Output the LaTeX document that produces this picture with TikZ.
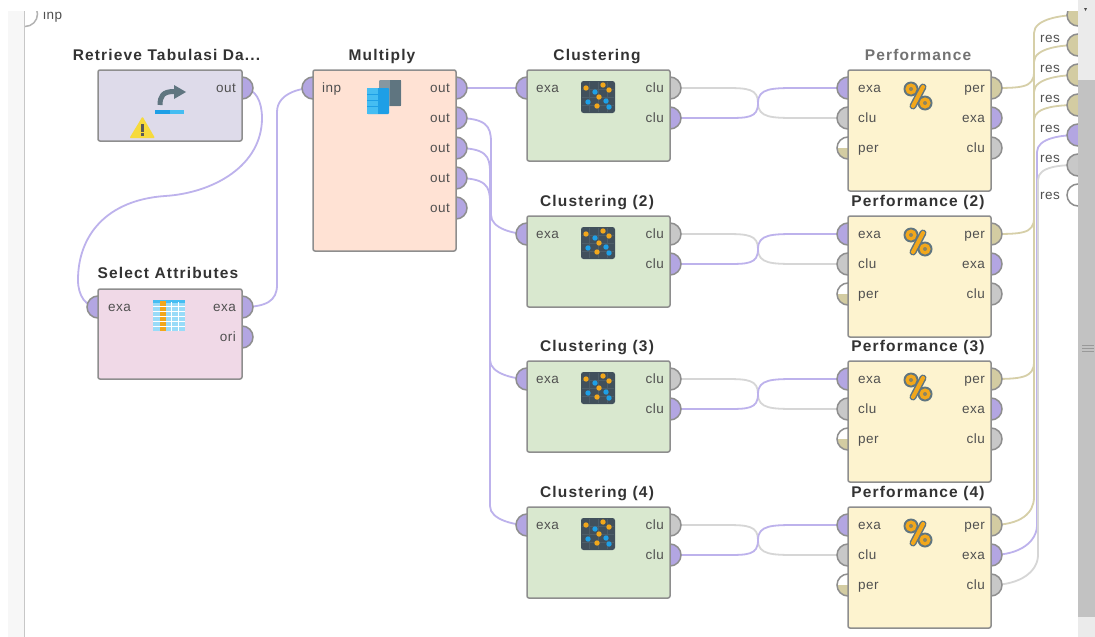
\documentclass[tikz,border=0pt]{standalone}
\usepackage{fontspec}
\setmainfont{Liberation Sans}
\newfontfamily\titlefont[LetterSpace=7.5]{Liberation Sans Bold}
\newfontfamily\portfont[LetterSpace=3]{Liberation Sans}
\usetikzlibrary{calc}
\pgfdeclarelayer{bg}
\pgfdeclarelayer{wires}
\pgfsetlayers{bg,wires,main}
\definecolor{purp}{HTML}{B3A6E2}
\definecolor{wpurp}{HTML}{BDB2EC}
\definecolor{tanc}{HTML}{D3CCA2}
\definecolor{wtan}{HTML}{D6CFA8}
\definecolor{grayc}{HTML}{C8C8C8}
\definecolor{wgray}{HTML}{D6D6D6}
\definecolor{edgec}{HTML}{8E8E8E}
\definecolor{txtc}{HTML}{505050}
\definecolor{fret}{HTML}{DEDBEA}
\definecolor{fmul}{HTML}{FFE2D4}
\definecolor{fsel}{HTML}{F0D9E7}
\definecolor{fclu}{HTML}{D9E8CF}
\definecolor{fper}{HTML}{FDF3CF}
\definecolor{blue1}{HTML}{1E9FE6}
\definecolor{blue2}{HTML}{45BDF2}
\definecolor{slatec}{HTML}{5F7580}
\definecolor{darkicon}{HTML}{41505C}
\definecolor{gridicon}{HTML}{4E5E69}
\definecolor{iconorange}{HTML}{F2A71B}
\definecolor{warnc}{HTML}{F6DA3C}
\tikzset{
  x=1pt,y=-1pt,
  opbox/.style={draw=edgec,line width=1.5pt,rounded corners=2pt,anchor=north west,inner sep=0pt,outer sep=0pt},
  port/.style={circle,draw=edgec,line width=1.5pt,minimum size=22pt,inner sep=0pt,outer sep=0pt},
  pp/.style={port,fill=purp},
  pg/.style={port,fill=grayc},
  pt/.style={port,fill=tanc},
  pw/.style={port,fill=white},
  phalf/.style={port,fill=white,path picture={\fill[tanc] (path picture bounding box.west) rectangle (path picture bounding box.south east);}},
  optitle/.style={font=\titlefont\fontsize{15.5}{17}\selectfont,text=black!80,inner sep=0pt,anchor=base},
  plabel/.style={font=\portfont\fontsize{13.5}{15}\selectfont,text=txtc,inner sep=0pt,anchor=base},
  wp/.style={draw=wpurp,line width=1.8pt},
  wg/.style={draw=wgray,line width=1.8pt},
  wt/.style={draw=wtan,line width=1.8pt},
}
\newcommand{\lblL}[4]{\node[plabel,anchor=base west] (#1) at (#2,#3+4.5) {#4};}
\newcommand{\lblR}[4]{\node[plabel,anchor=base east] (#1) at (#2,#3+4.5) {#4};}
% vertical-run wire: a -> vertical at xv -> b (going down)
\newcommand{\wdown}[5]{\begin{pgfonlayer}{wires}
  \coordinate (#1-#2-t) at (#3,#4); \coordinate (#1-#2-b) at (#3,#5);
  \draw[wp] (#1.center) .. controls +(30,0) and +(0,-16) .. (#1-#2-t) -- (#1-#2-b) .. controls +(0,14) and +(-12,0) .. (#2.center);
\end{pgfonlayer}}
% crossing pair between clustering and performance
\newcommand{\wcross}[4]{\begin{pgfonlayer}{wires}
  \draw[wg] (#1.center) -- ++(56,0) .. controls +(22,0) and +(0,-14) .. ++(32,15) .. controls +(0,15) and +(-26,0) .. ($(#4.center)+(-50,0)$) -- (#4.center);
  \draw[wp] (#2.center) -- ++(56,0) .. controls +(22,0) and +(0,15) .. ++(32,-15) .. controls +(0,-15) and +(-26,0) .. ($(#3.center)+(-50,0)$) -- (#3.center);
\end{pgfonlayer}}
% icons
\newcommand{\iconcluster}[2]{\begin{scope}[shift={(#1,#2)}]
  \fill[rounded corners=2.5pt,fill=darkicon] (0,0) rectangle (34,32);
  \foreach \a in {8,17,26}{\draw[gridicon,line width=0.6pt] (\a,1) -- (\a,31);}
  \foreach \a in {8,16,24}{\draw[gridicon,line width=0.6pt] (1,\a) -- (33,\a);}
  \foreach \a/\b in {5/7,22/4,28/9,18/16,16/25}{\fill[iconorange] (\a,\b) circle (2.7);}
  \foreach \a/\b in {14/11,7/21,25/20,28/26}{\fill[blue1] (\a,\b) circle (2.7);}
\end{scope}}
\newcommand{\iconperc}[2]{\begin{scope}[shift={(#1,#2)}]
  \draw[slatec,line width=7pt,line cap=round] (12,-2) -- (2,17);
  \fill[slatec] (0,0) circle (7.5);
  \fill[slatec] (14,14) circle (7.5);
  \fill[iconorange] (0,0) circle (5.6);
  \fill[iconorange] (14,14) circle (5.6);
  \draw[iconorange,line width=4pt,line cap=round] (12,-2) -- (2,17);
  \fill[slatec!70!iconorange] (0,0) circle (2); \fill[slatec!70!iconorange] (14,14) circle (2);
\end{scope}}
\begin{document}
\begin{tikzpicture}
\useasboundingbox (0,0) rectangle (1095,637);
\begin{pgfonlayer}{bg}
\fill[white] (0,0) rectangle (1095,637);
\fill[black!3] (8,0) rectangle (24,637);
\fill[black!22] (24,0) rectangle (25.3,637);
\end{pgfonlayer}

% inp port at the top
\node[pw,minimum size=25pt,draw=black!30] (inp) at (25,14) {};
\fill[black!3] (10,0) rectangle (24,40);
\fill[black!22] (24,0) rectangle (25.3,40);
\lblL{inplbl}{43}{15}{inp}

% --- Retrieve
\node[pp] (ret-out) at (242,88) {};
\node[opbox,fill=fret,minimum width=144pt,minimum height=71pt] (ret) at (98,70) {};
\node[optitle] (rett) at (166.5,60.5) {Retrieve Tabulasi Da...};
\lblR{retl}{236}{88}{out}
\draw[slatec,line width=5pt] (160,105) .. controls (160,96) and (163,91.5) .. (174,91.5);
\fill[slatec] (174,85) -- (186,92) -- (174,99) -- cycle;
\fill[blue2] (155,110) rectangle (184,113.8);
\fill[blue1] (155,110) rectangle (170,113.8);
\fill[warnc,rounded corners=1pt] (129.5,138) -- (142.5,116.5) -- (155,138) -- cycle;
\fill[black!65] (141.3,124) rectangle (143.7,131.5); \fill[black!65] (141.3,133) rectangle (143.7,135.5);

% --- Select Attributes
\node[pp] (sel-in) at (98,307) {};
\node[pp] (sel-exa) at (242,307) {};
\node[pp] (sel-ori) at (242,337) {};
\node[opbox,fill=fsel,minimum width=144pt,minimum height=90pt] (sel) at (98,289) {};
\node[optitle] (selt) at (168,278.5) {Select Attributes};
\lblL{sell}{108}{307}{exa}
\lblR{selr}{236}{307}{exa}
\lblR{selo}{236}{337}{ori}
\fill[blue2!55!white] (153,300) rectangle (185,331);
\fill[blue2] (153,300) rectangle (185,302.5);
\fill[iconorange] (160,301) rectangle (166,331);
\foreach \yy in {306,311,316,321,326}{\draw[white,line width=0.9pt] (153,\yy) -- (185,\yy);}
\foreach \xx in {171,178}{\draw[white,line width=0.9pt] (\xx,302) -- (\xx,331);}

% --- Multiply
\node[pp] (mul-in) at (313,88) {};
\node[pp] (mul-o1) at (456,88) {};
\node[pp] (mul-o2) at (456,118) {};
\node[pp] (mul-o3) at (456,148) {};
\node[pp] (mul-o4) at (456,178) {};
\node[pp] (mul-o5) at (456,208) {};
\node[opbox,fill=fmul,minimum width=143pt,minimum height=181pt] (mul) at (313,70) {};
\node[optitle] (mult) at (382,60.5) {Multiply};
\lblL{mull}{322}{88}{inp}
\foreach \i/\yy in {1/88,2/118,3/148,4/178,5/208}{\lblR{mulr\i}{450}{\yy}{out}}
\fill[slatec!75!white,rounded corners=1pt] (379,80) rectangle (401,106);
\fill[slatec] (390,80) rectangle (401,106);
\fill[blue1,rounded corners=1pt] (367,88) rectangle (389,114);
\fill[blue2] (367,88) rectangle (378,114);
\foreach \yy in {94,100,106}{\draw[blue1,line width=0.7pt] (367,\yy) -- (378,\yy);}

% --- Clustering + Performance rows
\foreach \n/\top/\cname/\pname/\tc in {1/70/Clustering/Performance/black!55,2/216/Clustering (2)/Performance (2)/black!80,3/361/Clustering (3)/Performance (3)/black!80,4/507/Clustering (4)/Performance (4)/black!80}{
  \pgfmathsetmacro{\ya}{\top+18}\pgfmathsetmacro{\yb}{\top+48}\pgfmathsetmacro{\yc}{\top+78}\pgfmathsetmacro{\yt}{\top-9.5}
  \node[pp] (c\n-in) at (527,\ya) {};
  \node[pg] (c\n-o1) at (670,\ya) {};
  \node[pp] (c\n-o2) at (670,\yb) {};
  \node[opbox,fill=fclu,minimum width=143pt,minimum height=91pt] (c\n) at (527,\top) {};
  \node[optitle] (c\n t) at (597,\yt) {\cname};
  \lblL{c\n a}{536}{\ya}{exa}
  \lblR{c\n b}{664}{\ya}{clu}
  \lblR{c\n c}{664}{\yb}{clu}
  \pgfmathsetmacro{\icy}{\top+11}
  \iconcluster{581}{\icy}
  \node[pp] (p\n-in) at (848,\ya) {};
  \node[pg] (p\n-clu) at (848,\yb) {};
  \node[phalf] (p\n-per) at (848,\yc) {};
  \node[pt] (p\n-o1) at (991,\ya) {};
  \node[pp] (p\n-o2) at (991,\yb) {};
  \node[pg] (p\n-o3) at (991,\yc) {};
  \node[opbox,fill=fper,minimum width=143pt,minimum height=121pt] (p\n) at (848,\top) {};
  \node[optitle,text=\tc] (p\n t) at (918,\yt) {\pname};
  \lblL{p\n a}{858}{\ya}{exa}
  \lblL{p\n b}{858}{\yb}{clu}
  \lblL{p\n c}{858}{\yc}{per}
  \lblR{p\n d}{985}{\ya}{per}
  \lblR{p\n e}{985}{\yb}{exa}
  \lblR{p\n f}{985}{\yc}{clu}
  \pgfmathsetmacro{\ipy}{\top+19}
  \iconperc{911}{\ipy}
  \wcross{c\n-o1}{c\n-o2}{p\n-in}{p\n-clu}
}

% --- result ports
\node[pt] (r1) at (1078,15) {};
\node[pt] (r2) at (1078,45) {};
\node[pt] (r3) at (1078,75) {};
\node[pt] (r4) at (1078,105) {};
\node[pp] (r5) at (1078,135) {};
\node[pg] (r6) at (1078,165) {};
\node[pw] (r7) at (1078,195) {};
\lblR{rl1}{1060}{3.5}{res}
\lblR{rl2}{1060}{37.5}{res}
\lblR{rl3}{1060}{67.5}{res}
\lblR{rl4}{1060}{97.5}{res}
\lblR{rl5}{1060}{127.5}{res}
\lblR{rl6}{1060}{157.5}{res}
\lblR{rl7}{1060}{195}{res}

% --- wires
\begin{pgfonlayer}{wires}
  \coordinate (rv0) at (262,118);
  \coordinate (rv1) at (165,196);
  \coordinate (rv2) at (78,280);
  \draw[wp] (ret-out.center) .. controls +(14,0) and +(0,-16) .. (rv0) .. controls +(0,48) and +(48,-3) .. (rv1) .. controls +(-58,4) and +(0,-45) .. (rv2) .. controls +(0,16) and +(-12,0) .. (sel-in.center);
  \coordinate (sv1) at (277,285);
  \coordinate (sv2) at (277,112);
  \draw[wp] (sel-exa.center) .. controls +(24,0) and +(0,16) .. (sv1) -- (sv2) .. controls +(0,-18) and +(-14,0) .. (mul-in.center);
  \draw[wp] (mul-o1.center) -- (c1-in.center);
\end{pgfonlayer}
\wdown{mul-o2}{c2-in}{491}{142}{215}
\wdown{mul-o3}{c3-in}{490}{172}{360}
\wdown{mul-o4}{c4-in}{490}{202}{506}

\begin{pgfonlayer}{wires}
  \foreach \st/\src/\dst/\xb/\ytop/\ybot in {
    wt/p1-o1/r1/1034/33/72,
    wt/p2-o1/r2/1034/62/218,
    wt/p3-o1/r3/1034/92/362,
    wt/p4-o1/r4/1034/120/497,
    wp/p4-o2/r5/1037/152/525,
    wg/p4-o3/r6/1038/180/555}{
    \coordinate (\src-b) at (\xb,\ybot);
    \coordinate (\src-t) at (\xb,\ytop);
    \draw[\st] (\src.center) .. controls +(30,0) and +(0,16) .. (\src-b) -- (\src-t) .. controls +(0,-14) and +(-16,0) .. (\dst.center);
  }
\end{pgfonlayer}

% --- scrollbar and top edge
\fill[black!8] (1078,0) rectangle (1095,637);
\fill[black!24] (1078,80) rectangle (1095,617);
\foreach \yy in {345,348,351}{\draw[black!40,line width=0.7pt] (1082,\yy) -- (1094,\yy);}
\fill[white] (0,0) rectangle (1078,10.5);
\fill[black!70] (1084,8) -- (1087,8) -- (1085.5,11) -- cycle;
\end{tikzpicture}
\end{document}
